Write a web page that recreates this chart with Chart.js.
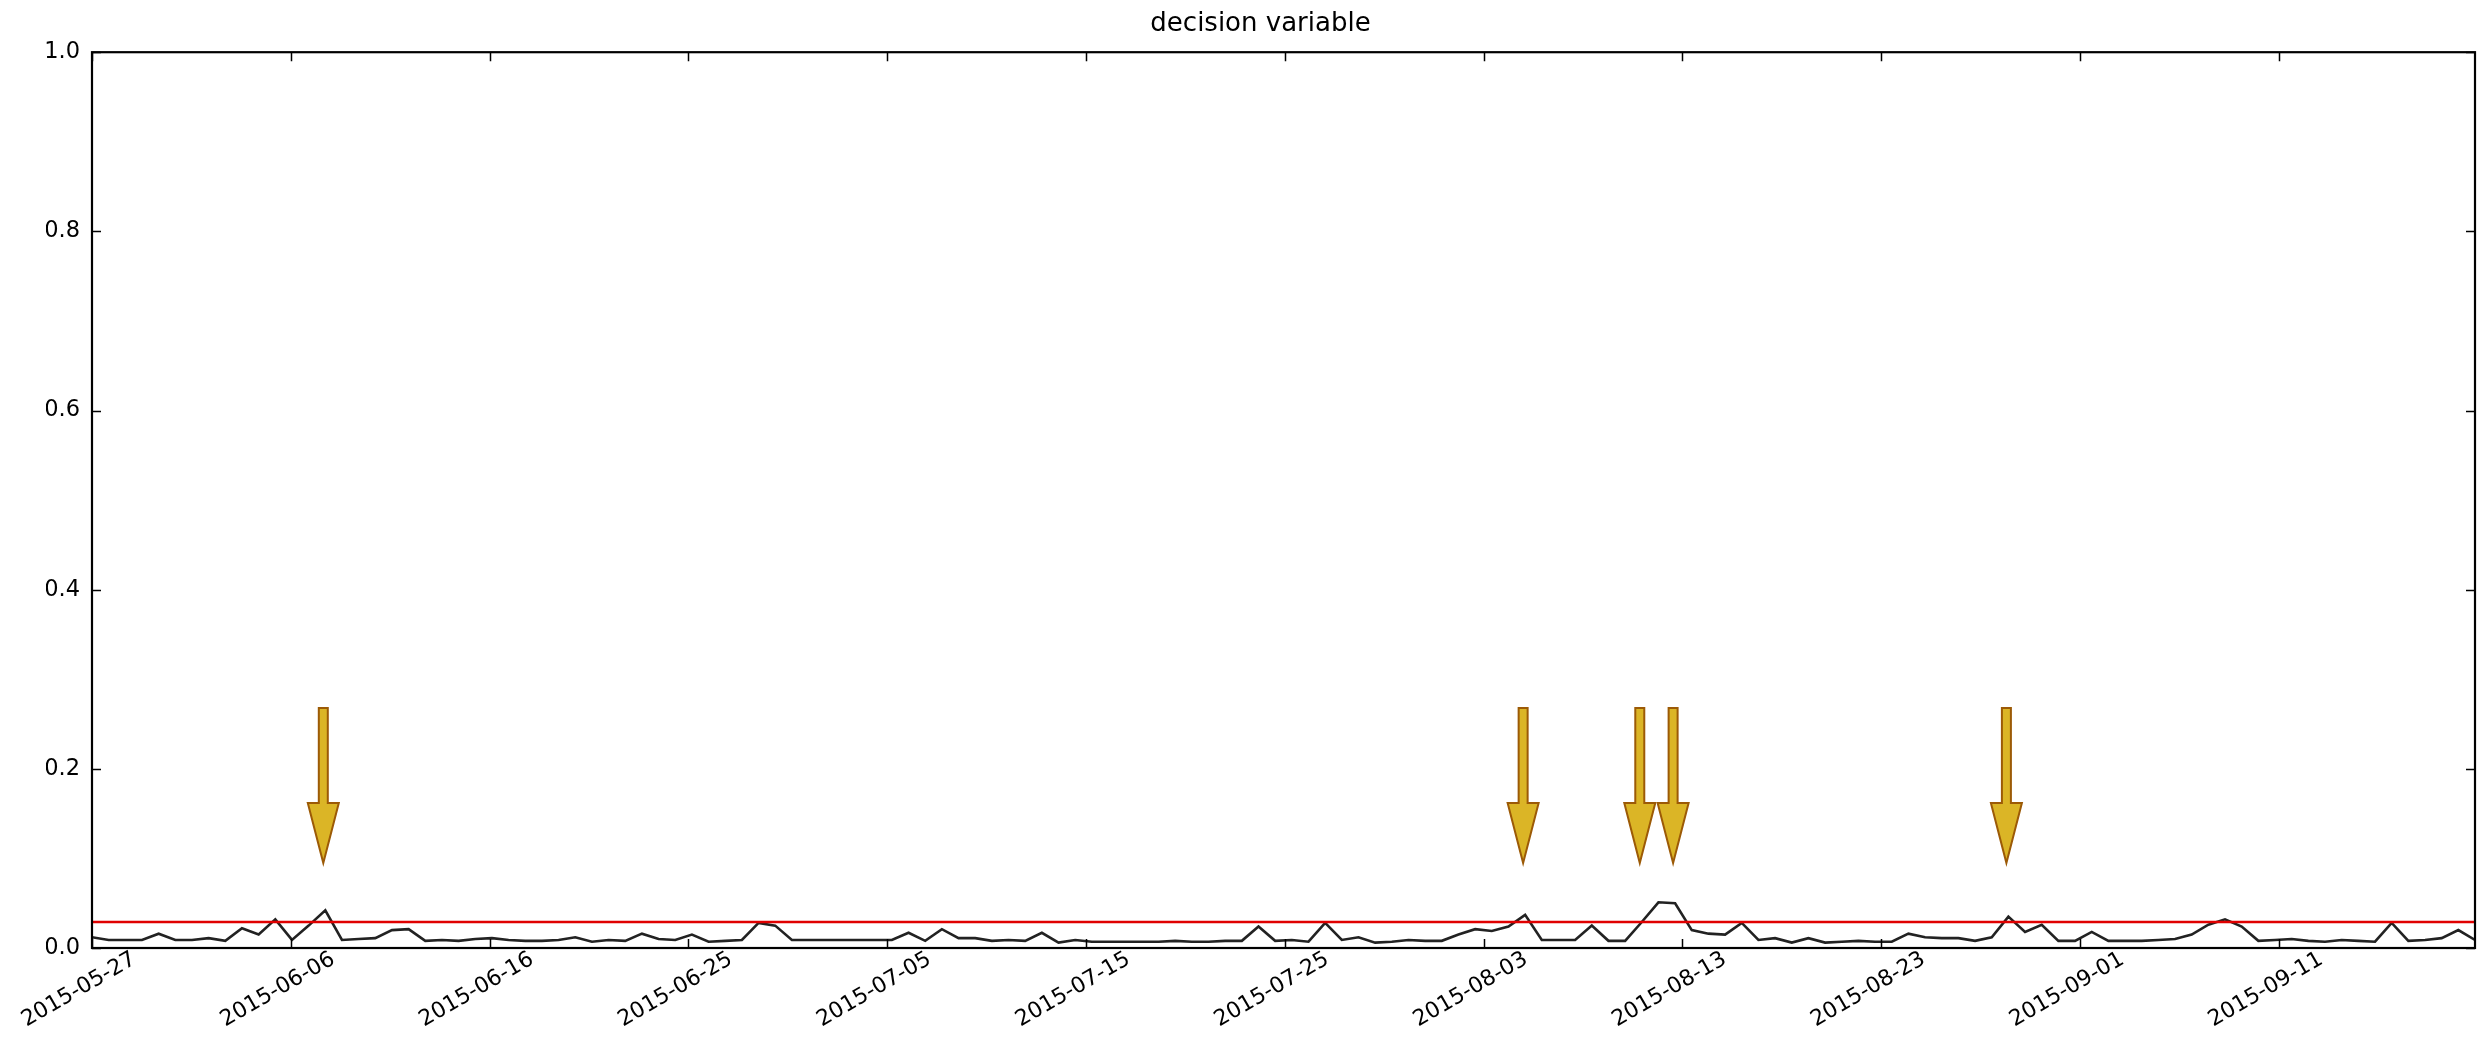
<!DOCTYPE html>
<html>
<head>
<meta charset="utf-8">
<script src="https://cdn.jsdelivr.net/npm/chart.js@4.4.1/dist/chart.umd.min.js"></script>
<style>
  html, body { margin: 0; padding: 0; background: #fff; }
  #wrap { width: 2492px; height: 1055px; }
</style>
</head>
<body>
<div id="wrap"><canvas id="decisionChart" width="2492" height="1055"></canvas></div>
<script>
// tick labels along the bottom axis (evenly spaced)
const tickLabels = ['2015-05-27', '2015-06-06', '2015-06-16', '2015-06-25', '2015-07-05', '2015-07-15',
                    '2015-07-25', '2015-08-03', '2015-08-13', '2015-08-23', '2015-09-01', '2015-09-11'];
const tickStep = 11.93; // samples between two date ticks

const yTicks = [0, 0.2, 0.4, 0.6, 0.8, 1.0];

// decision variable, one value per sample
const decision = [
  0.012, 0.009, 0.009, 0.009, 0.016, 0.009, 0.009, 0.011, 0.008, 0.022, 0.015, 0.032,
  0.009, 0.025, 0.042, 0.009, 0.010, 0.011, 0.020, 0.021, 0.008, 0.009, 0.008, 0.010,
  0.011, 0.009, 0.008, 0.008, 0.009, 0.012, 0.007, 0.009, 0.008, 0.016, 0.010, 0.009,
  0.015, 0.007, 0.008, 0.009, 0.028, 0.025, 0.009, 0.009, 0.009, 0.009, 0.009, 0.009,
  0.009, 0.017, 0.008, 0.021, 0.011, 0.011, 0.008, 0.009, 0.008, 0.017, 0.006, 0.009,
  0.007, 0.007, 0.007, 0.007, 0.007, 0.008, 0.007, 0.007, 0.008, 0.008, 0.024, 0.008,
  0.009, 0.007, 0.028, 0.009, 0.012, 0.006, 0.007, 0.009, 0.008, 0.008, 0.015, 0.021,
  0.019, 0.024, 0.037, 0.009, 0.009, 0.009, 0.025, 0.008, 0.008, 0.029, 0.051, 0.050,
  0.020, 0.016, 0.015, 0.028, 0.009, 0.011, 0.006, 0.011, 0.006, 0.007, 0.008, 0.007,
  0.007, 0.016, 0.012, 0.011, 0.011, 0.008, 0.012, 0.035, 0.018, 0.026, 0.008, 0.008,
  0.018, 0.008, 0.008, 0.008, 0.009, 0.010, 0.015, 0.026, 0.032, 0.024, 0.008, 0.009,
  0.010, 0.008, 0.007, 0.009, 0.008, 0.007, 0.028, 0.008, 0.009, 0.011, 0.020, 0.009
];

const threshold = 0.029;

// flagged samples get an arrow
const flagged = [14, 86, 93, 95, 115];
const arrowTip = 0.095;
const arrowTail = 0.268;

const lastIdx = decision.length - 1;
const font = '"DejaVu Sans", sans-serif';

const decorations = {
    id: 'decorations',
    afterDatasetsDraw(chart) {
        const ctx = chart.ctx;
        const a = chart.chartArea;
        const x = chart.scales.x;
        const y = chart.scales.y;
        ctx.save();

        // arrows
        flagged.forEach(function(i) {
            const px = x.getPixelForValue(i) - 2;
            const tipY = y.getPixelForValue(arrowTip);
            const tailY = y.getPixelForValue(arrowTail);
            const headLen = 60, headHalf = 15.5, shaftHalf = 4.5;
            ctx.beginPath();
            ctx.moveTo(px - shaftHalf, tailY);
            ctx.lineTo(px + shaftHalf, tailY);
            ctx.lineTo(px + shaftHalf, tipY - headLen);
            ctx.lineTo(px + headHalf, tipY - headLen);
            ctx.lineTo(px, tipY);
            ctx.lineTo(px - headHalf, tipY - headLen);
            ctx.lineTo(px - shaftHalf, tipY - headLen);
            ctx.closePath();
            ctx.fillStyle = '#dbb526';
            ctx.fill();
            ctx.strokeStyle = '#9c5a06';
            ctx.lineWidth = 2;
            ctx.stroke();
        });

        // frame
        ctx.strokeStyle = '#000';
        ctx.lineWidth = 2.2;
        ctx.strokeRect(a.left, a.top, a.right - a.left, a.bottom - a.top);

        // inward ticks
        ctx.lineWidth = 1.5;
        const tl = 9;
        ctx.beginPath();
        x.ticks.forEach(function(t) {
            const px = Math.round(x.getPixelForValue(t.value)) + 0.5;
            ctx.moveTo(px, a.bottom); ctx.lineTo(px, a.bottom - tl);
            ctx.moveTo(px, a.top); ctx.lineTo(px, a.top + tl);
        });
        y.ticks.forEach(function(t) {
            const py = Math.round(y.getPixelForValue(t.value)) + 0.5;
            ctx.moveTo(a.left, py); ctx.lineTo(a.left + tl, py);
            ctx.moveTo(a.right, py); ctx.lineTo(a.right - tl, py);
        });
        ctx.stroke();

        // rotated date labels under their tick
        ctx.fillStyle = '#000';
        ctx.font = '22px ' + font;
        ctx.textAlign = 'center';
        ctx.textBaseline = 'middle';
        const ang = 30 * Math.PI / 180;
        x.ticks.forEach(function(t, k) {
            const label = tickLabels[k];
            const w = ctx.measureText(label).width;
            const h = w * Math.sin(ang) + 18 * Math.cos(ang);
            const px = x.getPixelForValue(t.value) - 13;
            ctx.save();
            ctx.translate(px, a.bottom + 2 + h / 2);
            ctx.rotate(-ang);
            ctx.fillText(label, 0, 0);
            ctx.restore();
        });

        ctx.restore();
    }
};

const ctx = document.getElementById('decisionChart').getContext('2d');
new Chart(ctx, {
    type: 'line',
    data: {
        datasets: [
            {
                label: 'threshold',
                data: [{ x: 0, y: threshold }, { x: lastIdx, y: threshold }],
                borderColor: '#e00000',
                borderWidth: 2.5,
                pointRadius: 0,
                tension: 0,
                fill: false
            },
            {
                label: 'decision variable',
                data: decision.map(function(v, i) { return { x: i, y: v }; }),
                borderColor: '#222222',
                borderWidth: 2.6,
                pointRadius: 0,
                tension: 0,
                fill: false
            }
        ]
    },
    options: {
        responsive: false,
        animation: false,
        layout: { padding: { left: 46, right: 17, top: 0, bottom: 0 } },
        plugins: {
            legend: { display: false },
            tooltip: { enabled: false },
            title: {
                display: true,
                text: 'decision variable',
                color: '#000',
                font: { family: font, size: 26, weight: 'normal' },
                padding: { top: 9, bottom: 12 }
            }
        },
        scales: {
            x: {
                type: 'linear',
                min: 0,
                max: lastIdx,
                grid: { display: false, drawTicks: false },
                border: { display: false },
                ticks: { display: false },
                afterBuildTicks: function(scale) {
                    scale.ticks = tickLabels.map(function(_, k) { return { value: k * tickStep }; });
                },
                afterFit: function(scale) { scale.height = 107; }
            },
            y: {
                min: 0,
                max: 1,
                grid: { display: false, drawTicks: false },
                border: { display: false },
                afterBuildTicks: function(scale) {
                    scale.ticks = yTicks.map(function(v) { return { value: v }; });
                },
                ticks: {
                    color: '#000',
                    padding: 12,
                    font: { family: font, size: 22.5 },
                    callback: function(v) { return Number(v).toFixed(1); }
                },
                afterFit: function(scale) { scale.width = 46; }
            }
        }
    },
    plugins: [decorations]
});
</script>
</body>
</html>
